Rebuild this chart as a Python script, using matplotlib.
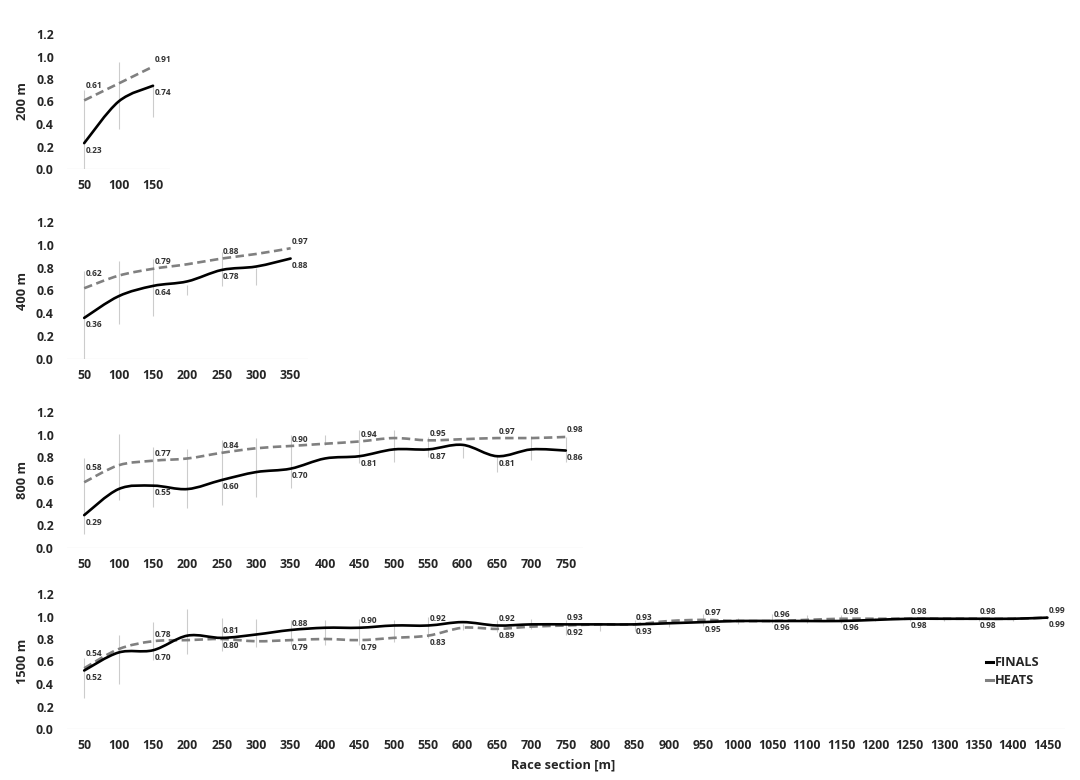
import matplotlib
matplotlib.use("Agg")
import matplotlib.pyplot as plt
from matplotlib.path import Path
from matplotlib.patches import PathPatch
from matplotlib.lines import Line2D

FONT = ['Open Sans', 'DejaVu Sans']
plt.rcParams['font.family'] = FONT
plt.rcParams['font.weight'] = 'bold'

# ---------------- data ----------------
sections_200 = [50, 100, 150]
finals_200 = [0.23, 0.60, 0.74]
heats_200 = [0.61, 0.76, 0.91]
errtop_200 = [0.70, 0.95, 0.75]
errbot_200 = [0.00, 0.36, 0.46]

sections_400 = [50, 100, 150, 200, 250, 300, 350]
finals_400 = [0.36, 0.55, 0.64, 0.68, 0.78, 0.81, 0.88]
heats_400 = [0.62, 0.73, 0.79, 0.83, 0.88, 0.92, 0.97]
errtop_400 = [0.77, 0.86, 0.88, 0.65, 0.94, 0.80, 0.88]
errbot_400 = [0.00, 0.31, 0.38, 0.56, 0.64, 0.65, 0.88]

sections_800 = [50, 100, 150, 200, 250, 300, 350, 400, 450, 500, 550, 600, 650, 700, 750]
finals_800 = [0.29, 0.52, 0.55, 0.52, 0.60, 0.67, 0.70, 0.79, 0.81, 0.87, 0.87, 0.91, 0.81, 0.87, 0.86]
heats_800 = [0.58, 0.73, 0.77, 0.79, 0.84, 0.88, 0.90, 0.92, 0.94, 0.97, 0.95, 0.96, 0.97, 0.97, 0.98]
errtop_800 = [0.79, 1.01, 0.89, 0.87, 0.95, 0.97, 1.00, 1.00, 1.04, 1.04, 0.98, 0.89, 0.81, 0.99, 0.98]
errbot_800 = [0.12, 0.42, 0.36, 0.35, 0.38, 0.45, 0.53, 0.91, 0.75, 0.76, 0.80, 0.79, 0.67, 0.78, 0.76]

sections_1500 = [50, 100, 150, 200, 250, 300, 350, 400, 450, 500, 550, 600, 650, 700, 750,
                 800, 850, 900, 950, 1000, 1050, 1100, 1150, 1200, 1250, 1300, 1350, 1400, 1450]
finals_1500 = [0.52, 0.68, 0.70, 0.83, 0.81, 0.84, 0.88, 0.90, 0.90, 0.92, 0.92, 0.95, 0.92, 0.93, 0.93,
               0.93, 0.93, 0.94, 0.95, 0.96, 0.96, 0.96, 0.96, 0.97, 0.98, 0.98, 0.98, 0.98, 0.99]
heats_1500 = [0.54, 0.71, 0.78, 0.79, 0.80, 0.78, 0.79, 0.80, 0.79, 0.81, 0.83, 0.90, 0.89, 0.91, 0.92,
              0.93, 0.93, 0.96, 0.97, 0.96, 0.96, 0.97, 0.98, 0.98, 0.98, 0.98, 0.98, 0.98, 0.99]
errtop_1500 = [0.63, 0.84, 0.95, 1.07, 0.99, 0.98, 0.97, 0.97, 0.98, 0.97, 1.00, 0.93, 0.97, 0.98, 0.97,
               0.93, 0.97, 0.95, 1.02, 0.99, 1.02, 1.01, 1.01, 0.99, 0.99, 0.99, 0.99, 0.99, 1.00]
errbot_1500 = [0.28, 0.40, 0.61, 0.67, 0.69, 0.73, 0.75, 0.75, 0.75, 0.77, 0.81, 0.88, 0.86, 0.89, 0.84,
               0.87, 0.87, 0.91, 0.92, 0.93, 0.94, 0.94, 0.94, 0.96, 0.96, 0.96, 0.96, 0.96, 0.98]

y_ticks = [0.0, 0.2, 0.4, 0.6, 0.8, 1.0, 1.2]
series_names = ['FINALS', 'HEATS']

# ---------------- style ----------------
W, H = 1080, 780
SLOT = 34.4
LEFT = 67
TXT = '#262626'
LBL = '#333333'
FIN_C = '#000000'
HEAT_C = '#808080'
ERR_C = '#cccccc'
BASE_C = '#e3e3e3'

panels = [
    (sections_200, finals_200, heats_200, errtop_200, errbot_200, '200 m', 34, 169),
    (sections_400, finals_400, heats_400, errtop_400, errbot_400, '400 m', 222, 359),
    (sections_800, finals_800, heats_800, errtop_800, errbot_800, '800 m', 412, 548),
    (sections_1500, finals_1500, heats_1500, errtop_1500, errbot_1500, '1500 m', 594, 729),
]


def smooth_path(xs, ys):
    """Excel-like smoothed line as cubic Bezier segments (Catmull-Rom control points)."""
    pts = list(zip(xs, ys))
    n = len(pts)
    verts = [pts[0]]
    codes = [Path.MOVETO]
    for i in range(n - 1):
        p0 = pts[i - 1] if i > 0 else pts[i]
        p1 = pts[i]
        p2 = pts[i + 1]
        p3 = pts[i + 2] if i + 2 < n else pts[i + 1]
        c1 = (p1[0] + (p2[0] - p0[0]) / 6.0, p1[1] + (p2[1] - p0[1]) / 6.0)
        c2 = (p2[0] - (p3[0] - p1[0]) / 6.0, p2[1] - (p3[1] - p1[1]) / 6.0)
        verts += [c1, c2, p2]
        codes += [Path.CURVE4] * 3
    return Path(verts, codes)


fig = plt.figure(figsize=(W / 100, H / 100), dpi=100)

for sections, finals, heats, etop, ebot, name, ytop, ybot in panels:
    n = len(sections)
    ax = fig.add_axes([LEFT / W, 1 - ybot / H, n * SLOT / W, (ybot - ytop) / H])
    ax.set_xlim(-0.5, n - 0.5)
    ax.set_ylim(0, 1.2)
    for s in ax.spines.values():
        s.set_visible(False)
    ax.set_yticks(y_ticks)
    ax.set_yticklabels([f'{v:.1f}' for v in y_ticks])
    xs = list(range(n))
    ax.set_xticks(xs)
    ax.set_xticklabels([str(s) for s in sections])
    ax.tick_params(axis='y', length=0, pad=9.5, labelsize=8.9, labelcolor=TXT)
    ax.tick_params(axis='x', length=0, pad=7.5, labelsize=8.9, labelcolor=TXT)
    for t in ax.get_xticklabels() + ax.get_yticklabels():
        t.set_fontweight('bold')
        t.set_family(FONT)
    ax.axhline(0, color=BASE_C, lw=0.9, zorder=1)

    # error bars
    ax.vlines(xs, ebot, etop, colors=ERR_C, lw=0.8, zorder=2)

    # lines
    ax.add_patch(PathPatch(smooth_path(xs, heats), fill=False, edgecolor=HEAT_C, lw=1.9,
                           linestyle=(0, (3.2, 1.7)), zorder=3, capstyle='butt'))
    ax.add_patch(PathPatch(smooth_path(xs, finals), fill=False, edgecolor=FIN_C, lw=1.9,
                           zorder=4, capstyle='round'))

    # data labels at every other section
    for i in range(0, n, 2):
        hi = max(finals[i], heats[i])
        lo = min(finals[i], heats[i])
        up = 10.5 if i == 0 else 5
        ax.annotate(f'{hi:.2f}', (i, hi), xytext=(1, up), textcoords='offset points',
                    ha='left', va='center', fontsize=6.0, fontweight='bold', color=LBL,
                    family=FONT, zorder=5)
        ax.annotate(f'{lo:.2f}', (i, lo), xytext=(1, -5), textcoords='offset points',
                    ha='left', va='center', fontsize=6.0, fontweight='bold', color=LBL,
                    family=FONT, zorder=5)

    fig.text(23 / W, 1 - (ytop + ybot) / 2 / H, name, rotation=90, ha='center', va='center',
             fontsize=9.2, fontweight='bold', color=TXT, family=FONT)

fig.text(563 / W, 1 - 765 / H, 'Race section [m]', ha='center', va='center',
         fontsize=9.2, fontweight='bold', color=TXT, family=FONT)

handles = [Line2D([], [], color=FIN_C, lw=2.2), Line2D([], [], color=HEAT_C, lw=2.2)]
fig.legend(handles, series_names, loc='upper left', bbox_to_anchor=(986 / W, 1 - 656 / H),
           frameon=False, handlelength=0.55, handletextpad=0.12, borderpad=0, borderaxespad=0,
           labelspacing=0.4, prop={'family': FONT, 'weight': 'bold', 'size': 9.2},
           labelcolor=TXT)

fig.savefig('out.png', dpi=100, facecolor='white')
